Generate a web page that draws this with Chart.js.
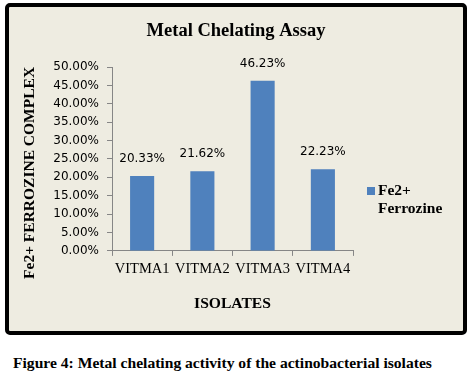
<!DOCTYPE html>
<html>
<head>
<meta charset="utf-8">
<script src="https://cdn.jsdelivr.net/npm/chart.js@4.4.1/dist/chart.umd.min.js"></script>
<style>
  body { margin: 0; background: #fff; width: 475px; height: 384px; overflow: hidden; }
  #frame {
    position: absolute; left: 5px; top: 3px;
    width: 454px; height: 324px;
    border: 4px solid #000; border-radius: 5px;
    background: #EEECE1;
  }
  #caption {
    position: absolute; left: 13px; top: 354px;
    font: bold 15.6px "Liberation Serif", "Times New Roman", serif;
    line-height: 18px; color: #000; white-space: nowrap;
  }
</style>
</head>
<body>
<div id="frame"><canvas id="myChart" width="454" height="324"></canvas></div>
<div id="caption">Figure 4: Metal chelating activity of the actinobacterial isolates</div>
<script>
// chart data
const isolates = ['VITMA1', 'VITMA2', 'VITMA3', 'VITMA4'];
const ferrozineValues = [20.33, 21.62, 46.23, 22.23];
const seriesLabel = ['Fe2+', 'Ferrozine'];
const yTitle = 'Fe2+ FERROZINE COMPLEX';
const xTitle = 'ISOLATES';
const chartTitle = 'Metal Chelating Assay';

const serif = '"Liberation Serif", "Times New Roman", serif';
const sans = '"DejaVu Sans", sans-serif';
const axisGrey = '#868686';
const barBlue = '#4F81BD';

// chart title, value labels above bars, y axis title and the side legend
const extras = {
    id: 'extras',
    afterDatasetsDraw(chart) {
        const ctx = chart.ctx;
        const area = chart.chartArea;
        const meta = chart.getDatasetMeta(0);
        ctx.save();
        ctx.fillStyle = '#000';
        ctx.textAlign = 'center';
        ctx.textBaseline = 'middle';

        ctx.font = 'bold 18.5px ' + serif;
        ctx.fillText(chartTitle, chart.width / 2, 24);

        ctx.font = '12px ' + sans;
        meta.data.forEach((bar, i) => {
            ctx.fillText(ferrozineValues[i].toFixed(2) + '%', bar.x, bar.y - 17);
        });

        // y title
        ctx.font = 'bold 15.5px ' + serif;
        ctx.translate(area.left - 82, (area.top + area.bottom) / 2 + 14);
        ctx.rotate(-Math.PI / 2);
        ctx.fillText(yTitle, 0, 0);
        ctx.restore();

        // legend
        ctx.save();
        const lx = area.right + 14;
        const ly = area.top + 120;
        ctx.fillStyle = barBlue;
        ctx.fillRect(lx, ly, 8, 8);
        ctx.fillStyle = '#000';
        ctx.font = 'bold 15.5px ' + serif;
        ctx.textAlign = 'left';
        ctx.textBaseline = 'middle';
        seriesLabel.forEach((t, i) => {
            ctx.fillText(t, lx + 11, ly + 4 + i * 18);
        });
        ctx.restore();
    }
};

new Chart(document.getElementById('myChart'), {
    type: 'bar',
    data: {
        labels: isolates,
        datasets: [{
            label: seriesLabel.join(' '),
            data: ferrozineValues,
            backgroundColor: barBlue,
            borderWidth: 0,
            categoryPercentage: 1,
            barPercentage: 0.4
        }]
    },
    options: {
        responsive: false,
        animation: false,
        devicePixelRatio: 1,
        layout: { padding: { left: 0, right: 110, top: 60, bottom: 0 } },
        plugins: {
            legend: { display: false },
            tooltip: { enabled: false },
            title: { display: false }
        },
        scales: {
            x: {
                grid: { drawOnChartArea: false, drawTicks: true, tickLength: 5, color: axisGrey, offset: true },
                border: { color: axisGrey },
                ticks: {
                    color: '#000',
                    padding: 5,
                    maxRotation: 0,
                    autoSkip: false,
                    font: { family: serif, size: 14.5 }
                },
                title: {
                    display: true,
                    text: xTitle,
                    color: '#000',
                    font: { family: serif, size: 15.6, weight: 'bold' },
                    padding: { top: 11, bottom: 18 }
                }
            },
            y: {
                min: 0,
                max: 50,
                grid: { drawOnChartArea: false, drawTicks: true, tickLength: 5, color: axisGrey },
                border: { color: axisGrey },
                ticks: {
                    stepSize: 5,
                    color: '#000',
                    padding: 8,
                    font: { family: sans, size: 12 },
                    callback: (v) => v.toFixed(2) + '%'
                },
                afterFit(scale) { scale.width = 103; }
            }
        }
    },
    plugins: [extras]
});
</script>
</body>
</html>
